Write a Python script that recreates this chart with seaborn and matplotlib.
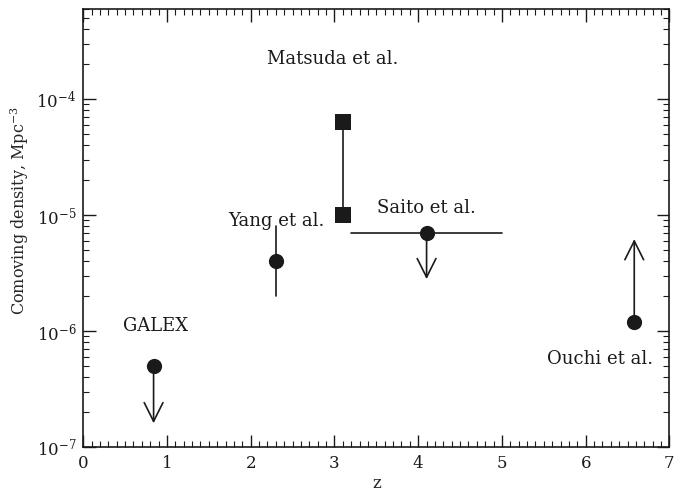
import numpy as np
import pandas as pd
import matplotlib
matplotlib.use("Agg")
import matplotlib.pyplot as plt
import seaborn as sns
from matplotlib.ticker import MultipleLocator, LogLocator, NullFormatter, FixedLocator

# ---- data ----
surveys = ["GALEX", "Yang et al.", "Matsuda et al.", "Saito et al.", "Ouchi et al."]
# circle points
circ_z = [0.84, 2.30, 4.10, 6.58]
circ_n = [5.0e-7, 4.0e-6, 7.0e-6, 1.2e-6]
# Yang error bar
yang_z = 2.30
yang_lo, yang_hi = 2.0e-6, 8.0e-6
# Matsuda square points (range)
mats_z = [3.10, 3.10]
mats_n = [1.0e-5, 6.3e-5]
# Saito redshift range
saito_zrange = [3.2, 5.0]
saito_n = 7.0e-6
# limits: (z, start, end)
lim_z = [0.84, 4.10, 6.58]
lim_start = [5.0e-7, 7.0e-6, 1.2e-6]
lim_end = [1.6e-7, 2.8e-6, 6.2e-6]
# label positions
label_z = [0.86, 2.30, 2.98, 4.10, 6.17]
label_n = [1.1e-6, 8.8e-6, 2.2e-4, 1.15e-5, 5.7e-7]

sns.set_style("ticks")
plt.rcParams["font.family"] = ["DejaVu Serif"]
plt.rcParams["mathtext.fontset"] = "dejavuserif"

fig = plt.figure(figsize=(6.88, 4.96), dpi=100)
ax = fig.add_axes([0.121, 0.099, 0.852, 0.883])

df_c = pd.DataFrame({"z": circ_z, "n": circ_n})
df_s = pd.DataFrame({"z": mats_z, "n": mats_n})

# lines first
ax.plot([yang_z, yang_z], [yang_lo, yang_hi], color="#1a1a1a", lw=1.2, zorder=2)
ax.plot(mats_z, mats_n, color="#1a1a1a", lw=1.2, zorder=2)
ax.plot(saito_zrange, [saito_n, saito_n], color="#1a1a1a", lw=1.2, zorder=2)
for z, s, e in zip(lim_z, lim_start, lim_end):
    ax.annotate("", xy=(z, e), xytext=(z, s),
                arrowprops=dict(arrowstyle="->,head_length=0.9,head_width=0.45",
                                mutation_scale=15, color="#1a1a1a", lw=1.2,
                                shrinkA=0, shrinkB=0), zorder=2)

sns.scatterplot(data=df_c, x="z", y="n", ax=ax, marker="o", s=120,
                color="#1a1a1a", edgecolor="#1a1a1a", linewidth=0, zorder=3)
sns.scatterplot(data=df_s, x="z", y="n", ax=ax, marker="s", s=125,
                color="#1a1a1a", edgecolor="#1a1a1a", linewidth=0, zorder=3)

ax.set_yscale("log")
ax.set_xlim(0, 7)
ax.set_ylim(1e-7, 6e-4)

for name, z, n in zip(surveys, label_z, label_n):
    ax.text(z, n, name, ha="center", va="center", fontsize=13, color="#1a1a1a")

ax.set_xlabel("z", fontsize=12, labelpad=2)
ax.set_ylabel("Comoving density, Mpc$^{-3}$", fontsize=11.5)
ax.yaxis.set_label_coords(-0.089, 0.54)

ax.xaxis.set_major_locator(MultipleLocator(1))
ax.xaxis.set_minor_locator(MultipleLocator(0.1))
ax.yaxis.set_major_locator(FixedLocator([1e-7, 1e-6, 1e-5, 1e-4]))
ax.yaxis.set_minor_locator(LogLocator(base=10, subs=np.arange(2, 10)))
ax.yaxis.set_minor_formatter(NullFormatter())
ax.set_yticklabels([r"$10^{-7}$", r"$10^{-6}$", r"$10^{-5}$", r"$10^{-4}$"])

ax.tick_params(which="both", direction="in", top=True, right=True, colors="#1a1a1a")
ax.tick_params(which="major", length=9, width=1, labelsize=12)
ax.tick_params(axis="x", which="major", pad=6)
ax.tick_params(axis="y", which="major", pad=5)
ax.tick_params(which="minor", length=4.5, width=0.8)
for sp in ax.spines.values():
    sp.set_linewidth(1.2)
    sp.set_color("#1a1a1a")

fig.savefig("out.png", dpi=100)
